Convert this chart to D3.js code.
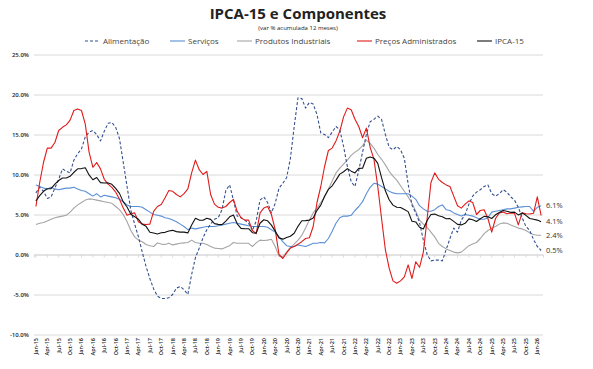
<!DOCTYPE html>
<html><head><meta charset="utf-8">
<script src="https://cdn.jsdelivr.net/npm/d3@7"></script>
<style>body{margin:0;background:#fff}svg{display:block}</style>
</head><body><svg id="c" width="593" height="369"></svg>
<script>
const monthNames=["Jan","Feb","Mar","Apr","May","Jun","Jul","Aug","Sep","Oct","Nov","Dec"];
const categories=[];
for(let yy=15;yy<=26;yy++)for(let mm=0;mm<12;mm++){if(categories.length<134)categories.push(monthNames[mm]+"-"+yy);}

const alimentacao=[7.7,8.4,7.9,7.0,7.2,8.3,9.4,10.7,10.4,10.2,11.8,12.6,
13.2,14.7,15.3,15.5,15.0,14.2,15.4,16.4,16.5,15.9,14.5,11.5,
8.5,5.5,3.8,2.2,0.3,-1.5,-3.0,-4.3,-5.2,-5.5,-5.5,-5.4,
-5.0,-4.2,-4.0,-4.4,-5.0,-2.5,-0.4,0.8,2.1,3.1,3.8,4.4,
4.6,5.6,8.0,8.7,6.8,4.8,4.6,4.3,3.9,3.0,4.2,6.8,
7.2,6.5,5.2,6.4,8.3,8.9,9.6,12.0,16.0,19.6,19.5,18.3,
19.0,18.8,17.5,15.2,15.0,14.6,15.3,16.0,15.6,13.5,11.0,9.1,
8.5,10.5,12.8,15.0,16.6,16.9,17.3,16.9,15.0,13.4,13.1,13.5,
13.1,12.0,8.8,6.2,5.2,4.0,1.8,0.0,-0.8,-0.7,-0.7,-0.8,
0.6,2.0,3.3,2.8,4.3,5.0,6.3,7.3,7.8,8.1,8.5,8.7,
7.6,7.3,7.6,8.1,7.8,7.2,6.8,5.9,4.6,3.5,3.0,1.9,1.0,0.5];

const servicos=[8.7,8.5,8.3,8.2,8.4,8.2,8.1,8.2,8.3,8.3,8.4,8.2,
8.0,7.9,7.6,7.3,7.6,7.2,7.4,7.3,7.2,7.1,6.9,6.6,
6.2,6.0,6.0,6.0,5.9,5.6,5.3,5.0,4.9,4.8,4.6,4.5,
4.3,4.1,3.8,3.5,3.1,3.3,3.2,3.3,3.4,3.5,3.5,3.5,
3.6,3.7,3.8,3.9,4.0,3.9,3.8,3.7,3.6,3.5,3.5,3.5,
3.5,3.4,3.1,2.8,2.2,1.6,1.1,1.0,1.0,1.2,1.1,1.0,
1.2,1.4,1.4,1.5,1.45,2.0,2.9,3.9,4.6,4.8,4.8,4.9,
5.5,6.0,6.6,7.6,8.4,8.9,8.8,8.5,8.2,7.9,7.7,7.6,
7.6,7.6,7.6,7.3,6.9,6.1,5.7,5.4,5.4,5.6,6.0,6.2,
5.6,5.5,5.2,5.0,4.8,5.0,4.9,4.8,4.6,4.4,4.4,4.6,
5.3,5.4,5.5,5.6,5.7,5.7,5.8,5.9,5.95,6.0,6.0,5.4,5.9,6.1];

const produtosIndustriais=[3.75,3.9,4.0,4.2,4.4,4.6,4.7,4.8,4.9,5.3,5.8,6.2,
6.5,6.8,6.95,6.9,6.8,6.7,6.6,6.5,6.4,6.0,5.6,5.0,
4.1,3.0,2.2,1.8,1.6,1.25,1.1,1.0,1.45,1.3,1.25,1.4,
1.2,1.3,1.4,1.45,1.5,1.8,1.5,1.4,1.4,1.25,1.0,0.8,
0.75,0.7,0.9,1.1,1.5,1.4,1.4,1.4,1.4,1.0,1.45,1.8,
1.75,1.8,1.9,1.0,-0.2,-0.3,0.3,0.9,1.3,1.8,2.4,3.3,
4.3,5.2,5.8,6.5,7.2,8.2,9.2,10.2,10.8,11.3,11.8,12.4,
12.8,13.1,13.6,14.3,13.9,13.3,12.5,11.9,11.2,10.4,9.8,9.3,
8.6,7.9,7.2,6.4,5.4,4.3,3.8,3.4,2.8,2.2,1.4,1.0,
0.7,0.5,0.3,0.2,0.3,0.7,1.1,1.3,1.5,2.0,2.6,3.0,
3.3,3.5,3.8,3.95,3.9,3.7,3.5,3.3,3.2,3.0,2.7,2.5,2.4,2.4];

const precosAdministrados=[6.0,9.0,11.5,13.3,13.3,14.0,15.5,15.9,16.2,16.8,18.0,18.2,
18.0,16.3,12.8,10.9,11.5,10.7,9.4,8.8,8.4,7.8,6.9,5.8,
4.9,5.1,5.2,4.1,3.8,3.75,3.8,5.4,6.0,6.25,7.1,8.0,
7.9,7.5,7.2,7.6,8.2,10.2,11.8,10.6,10.0,10.4,7.5,6.3,
5.9,5.8,6.0,6.5,6.9,5.4,4.6,4.3,4.3,3.0,2.6,5.2,
5.8,6.0,5.0,3.1,0.0,-0.5,0.2,0.8,1.0,1.3,1.6,2.0,
2.1,3.5,6.5,8.5,11.0,13.0,13.3,14.2,15.4,17.2,18.3,18.1,
16.9,16.0,14.6,15.8,13.4,11.9,8.5,4.5,0.6,-1.7,-3.3,-3.6,
-3.3,-2.8,-1.3,-3.0,-0.9,-1.6,0.3,4.5,9.0,10.2,9.4,9.0,
8.7,8.5,7.3,6.1,5.8,6.3,6.7,6.5,5.0,5.5,5.6,4.5,
2.8,4.5,5.2,5.3,5.1,5.2,5.15,3.7,5.2,5.1,5.06,5.15,7.2,4.9];

const ipca15=[6.69,7.36,7.90,8.22,8.24,8.80,9.25,9.57,9.57,9.77,10.28,10.71,
10.74,10.84,9.95,9.34,9.62,8.98,8.93,8.95,8.78,8.27,7.64,6.58,
5.94,5.02,4.73,4.41,3.77,3.52,2.78,2.68,2.56,2.71,2.77,2.94,
3.02,2.86,2.80,2.80,2.70,3.68,4.53,4.30,4.28,4.53,4.39,3.86,
3.77,3.73,4.18,4.71,4.93,3.84,3.27,3.22,3.22,2.72,2.67,3.91,
4.34,4.21,3.67,2.92,2.08,1.92,2.13,2.28,2.65,3.52,4.22,4.23,
4.30,4.57,5.52,6.17,7.27,8.13,8.59,9.30,10.05,10.34,10.73,10.42,
10.20,10.76,10.79,12.03,12.20,12.04,11.39,9.60,7.96,6.85,6.17,5.90,
5.87,5.63,5.36,4.16,4.07,3.40,3.19,4.24,5.00,5.05,4.84,4.72,
4.47,4.49,4.14,3.77,3.70,3.90,4.45,4.35,4.12,4.47,4.77,4.71,
4.50,4.96,5.26,5.49,5.40,5.27,5.30,4.95,5.20,4.90,4.50,4.41,4.30,4.10];

const yTicks=[-10,-5,0,5,10,15,20,25];
const seriesNames=["Alimentação","Serviços","Produtos Industriais","Preços Administrados","IPCA-15"];
const endLabels=["0.5%","6.1%","2.4%",null,"4.1%"];

const series=[
 {name:seriesNames[0],values:alimentacao,color:"#34508f",dash:"3,2",lbl:endLabels[0]},
 {name:seriesNames[1],values:servicos,color:"#5b8fd6",dash:null,lbl:endLabels[1]},
 {name:seriesNames[2],values:produtosIndustriais,color:"#a5a5a5",dash:null,lbl:endLabels[2]},
 {name:seriesNames[3],values:precosAdministrados,color:"#e01b1b",dash:null,lbl:endLabels[3]},
 {name:seriesNames[4],values:ipca15,color:"#111111",dash:null,lbl:endLabels[4]}
];

const svg=d3.select("#c");
const font="'Open Sans', 'DejaVu Sans', sans-serif";
const x=d3.scaleBand().domain(d3.range(categories.length)).range([34,543]).padding(0);
const bw=x.bandwidth();
const y=d3.scaleLinear().domain([-10,25]).range([334.5,54.5]);

const ga=svg.append("g").attr("transform","translate(34,0)")
 .call(d3.axisLeft(y).tickValues(yTicks).tickSize(-(543-34)).tickFormat(d=>d.toFixed(1)+"%"));
ga.select(".domain").remove();
ga.selectAll(".tick line").attr("stroke","#d9d9d9").attr("stroke-width",1);
ga.selectAll(".tick text").attr("x",-5).attr("fill","#222").style("font-family",font).style("font-size","6px").style("font-weight","600");

const tickIdx=d3.range(0,categories.length,3);
const gx=svg.append("g").attr("transform",`translate(0,${y(0)})`)
 .call(d3.axisBottom(x).tickValues(tickIdx).tickSize(3).tickFormat(""));
gx.select(".domain").attr("stroke","#d9d9d9");
gx.selectAll(".tick line").attr("stroke","#d9d9d9");

svg.append("g").selectAll("text").data(tickIdx).join("text")
 .attr("transform",d=>`translate(${x(d)+bw/2},338) rotate(-90)`)
 .attr("dy","0.35em").attr("text-anchor","end")
 .style("font-family",font).style("font-size","5.5px").style("font-weight","600").attr("fill","#222")
 .text(d=>categories[d]);

const line=d3.line().x((d,i)=>x(i)+bw/2).y(d=>y(d));
const order=[2,1,0,3,4];
order.forEach(k=>{
 const s=series[k];
 svg.append("path").datum(s.values).attr("d",line).attr("fill","none")
  .attr("stroke",s.color).attr("stroke-width",1.1)
  .attr("stroke-dasharray",s.dash).attr("stroke-linejoin","round");
});

series.forEach(s=>{
 if(!s.lbl)return;
 const v=s.values[s.values.length-1];
 svg.append("text").attr("x",546).attr("y",y(v)).attr("dy","0.35em")
  .style("font-family",font).style("font-size","7.5px").attr("fill","#333").text(s.lbl);
});

svg.append("text").attr("x",298).attr("y",19).attr("text-anchor","middle")
 .style("font-family",font).style("font-weight","bold").style("font-size","15px").attr("fill","#222")
 .text("IPCA-15 e Componentes");
svg.append("text").attr("x",298).attr("y",30).attr("text-anchor","middle")
 .style("font-family",font).style("font-size","6px").attr("fill","#222")
 .text("(var % acumulada 12 meses)");

const legX=[85,170,237,357,477];
series.forEach((s,i)=>{
 const g=svg.append("g").attr("transform",`translate(${legX[i]},41)`);
 g.append("line").attr("x1",0).attr("x2",15).attr("y1",0).attr("y2",0)
  .attr("stroke",s.color).attr("stroke-width",1.1).attr("stroke-dasharray",s.dash);
 g.append("text").attr("x",18).attr("y",0).attr("dy","0.35em")
  .style("font-family",font).style("font-size","8px").attr("fill","#444").text(s.name);
});
</script></body></html>
